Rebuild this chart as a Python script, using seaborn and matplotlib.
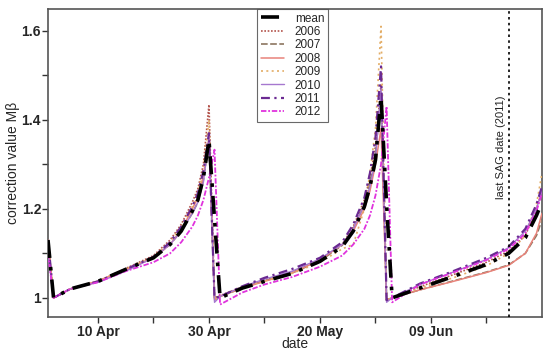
import numpy as np
import pandas as pd
import matplotlib
matplotlib.use("Agg")
import matplotlib.pyplot as plt
import matplotlib.dates as mdates
import seaborn as sns

# ---- data (day offsets from 1 Apr) ----
days = [0, 1, 4, 9, 14, 19, 22, 24, 26, 27, 28, 29, 30, 31, 35, 39, 44, 49, 53, 55,
        57, 58, 59, 60, 61, 62, 67, 73, 79, 83, 86, 88, 89]

mean = [1.13, 1.00, 1.02, 1.037, 1.064, 1.09, 1.12, 1.15, 1.195, 1.22, 1.27, 1.355, 1.177, 1.00,
        1.022, 1.037, 1.055, 1.082, 1.115, 1.15, 1.205, 1.25, 1.31, 1.452, 1.21, 1.00,
        1.022, 1.048, 1.075, 1.10, 1.135, 1.185, 1.215]
y2006 = [1.12, 1.00, 1.02, 1.036, 1.066, 1.095, 1.13, 1.165, 1.215, 1.245, 1.30, 1.434, 1.00, 1.005,
         1.025, 1.04, 1.058, 1.085, 1.12, 1.16, 1.22, 1.27, 1.34, 1.48, 0.995, 1.00,
         1.025, 1.052, 1.08, 1.105, 1.14, 1.20, 1.24]
y2007 = [1.13, 1.00, 1.02, 1.037, 1.063, 1.09, 1.12, 1.15, 1.19, 1.215, 1.265, 1.35, 0.995, 1.003,
         1.022, 1.038, 1.056, 1.083, 1.118, 1.155, 1.21, 1.26, 1.32, 1.46, 0.995, 1.00,
         1.018, 1.038, 1.058, 1.074, 1.10, 1.14, 1.175]
y2008 = [1.13, 1.00, 1.02, 1.038, 1.064, 1.09, 1.12, 1.152, 1.20, 1.225, 1.275, 1.36, 0.995, 1.003,
         1.022, 1.037, 1.056, 1.085, 1.12, 1.15, 1.20, 1.24, 1.30, 1.38, 0.995, 1.00,
         1.018, 1.037, 1.057, 1.073, 1.10, 1.145, 1.19]
y2009 = [1.13, 1.00, 1.02, 1.037, 1.065, 1.092, 1.125, 1.16, 1.205, 1.235, 1.29, 1.40, 0.995, 1.003,
         1.023, 1.038, 1.055, 1.08, 1.11, 1.12, 1.20, 1.28, 1.38, 1.61, 0.995, 1.00,
         1.022, 1.045, 1.072, 1.10, 1.14, 1.21, 1.28]
y2010 = [1.10, 1.00, 1.02, 1.035, 1.06, 1.09, 1.12, 1.15, 1.19, 1.215, 1.26, 1.36, 0.99, 1.003,
         1.025, 1.042, 1.06, 1.088, 1.12, 1.155, 1.21, 1.25, 1.31, 1.47, 0.99, 1.00,
         1.03, 1.058, 1.086, 1.113, 1.15, 1.20, 1.24]
y2011 = [1.13, 1.00, 1.02, 1.037, 1.064, 1.092, 1.125, 1.16, 1.205, 1.235, 1.285, 1.37, 1.00, 1.003,
         1.026, 1.045, 1.065, 1.09, 1.125, 1.165, 1.225, 1.28, 1.36, 1.52, 0.995, 1.00,
         1.032, 1.06, 1.09, 1.115, 1.155, 1.21, 1.25]
y2012 = [1.10, 1.00, 1.02, 1.035, 1.06, 1.08, 1.10, 1.125, 1.16, 1.185, 1.22, 1.27, 1.333, 0.985,
         1.012, 1.03, 1.047, 1.07, 1.095, 1.12, 1.155, 1.185, 1.23, 1.30, 1.43, 0.99,
         1.03, 1.057, 1.085, 1.11, 1.145, 1.195, 1.235]

series_names = ["mean", "2006", "2007", "2008", "2009", "2010", "2011", "2012"]
series_vals = [mean, y2006, y2007, y2008, y2009, y2010, y2011, y2012]

xtick_labels = ["10 Apr", "30 Apr", "20 May", "09 Jun"]
start = pd.Timestamp("2011-04-01")
sag_date = pd.Timestamp("2011-06-23")

# ---- styles ----
styles = {
    "mean": dict(color="black", lw=2.6, ls=(0, (5, 2.5, 1, 2.5)), z=10),
    "2006": dict(color="#b3544c", lw=1.2, ls=(0, (1, 1)), z=3),
    "2007": dict(color="#8c7660", lw=1.2, ls=(0, (4, 1.5)), z=3),
    "2008": dict(color="#e8837a", lw=1.1, ls="-", z=3),
    "2009": dict(color="#e3ad66", lw=1.2, ls=(0, (1.2, 2)), z=3),
    "2010": dict(color="#a678cf", lw=1.0, ls="-", z=4),
    "2011": dict(color="#6b2a92", lw=1.6, ls=(0, (4, 2, 1, 2)), z=5),
    "2012": dict(color="#e033dd", lw=1.3, ls=(0, (3, 1, 1, 1)), z=6),
}

sns.set_theme(style="ticks")
plt.rcParams["font.family"] = ["Liberation Sans", "DejaVu Sans"]

fig = plt.figure(figsize=(5.5, 3.54), dpi=100)
ax = fig.add_axes([48 / 550, 37 / 354, 494 / 550, 308 / 354])

dates = start + pd.to_timedelta(days, unit="D")
handles = {}
for name, vals in zip(series_names, series_vals):
    st = styles[name]
    df = pd.DataFrame({"date": dates, "value": vals})
    sns.lineplot(data=df, x="date", y="value", ax=ax, color=st["color"],
                 linewidth=st["lw"], linestyle=st["ls"], zorder=st["z"], label=name,
                 legend=False)
    handles[name] = ax.get_lines()[-1]

ax.axvline(sag_date, color="black", ls=(0, (1.5, 2)), lw=1.2, zorder=11)
ax.text(sag_date - pd.Timedelta(days=1.4), 1.222, "last SAG date (2011)", rotation=90,
        ha="center", va="bottom", fontsize=8, color="#222222")

ax.set_xlim(start, start + pd.Timedelta(days=89))
ax.set_ylim(0.957, 1.649)

major_x = [start + pd.Timedelta(days=d) for d in (9, 29, 49, 69)]
minor_x = [start + pd.Timedelta(days=d) for d in (19, 39, 59, 79)]
ax.set_xticks(major_x)
ax.set_xticklabels(xtick_labels, fontweight="bold", fontsize=10)
ax.set_xticks(minor_x, minor=True)
ax.set_yticks([1.0, 1.2, 1.4, 1.6])
ax.set_yticklabels(["1", "1.2", "1.4", "1.6"], fontweight="bold", fontsize=10)
ax.set_yticks([1.1, 1.3, 1.5], minor=True)
ax.tick_params(which="both", direction="out", length=4, width=1, color="#333333")
ax.tick_params(axis="y", which="both", pad=1)
ax.tick_params(axis="x", which="both", pad=2)

ax.set_xlabel("date", fontsize=10, labelpad=-2)
ax.set_ylabel("correction value M\u03b2", fontsize=10, labelpad=1)

for sp in ax.spines.values():
    sp.set_color("#555555")
    sp.set_linewidth(1.2)

leg = ax.legend([handles[n] for n in series_names], series_names,
                loc="upper left", bbox_to_anchor=(0.423, 1.0), borderaxespad=0,
                fontsize=8.5, labelspacing=0.12, handlelength=2.0, handletextpad=0.9,
                frameon=True, fancybox=False, edgecolor="#444444", borderpad=0.3)
leg.get_frame().set_linewidth(0.8)
leg.set_zorder(20)

fig.savefig("out.png", dpi=100)
